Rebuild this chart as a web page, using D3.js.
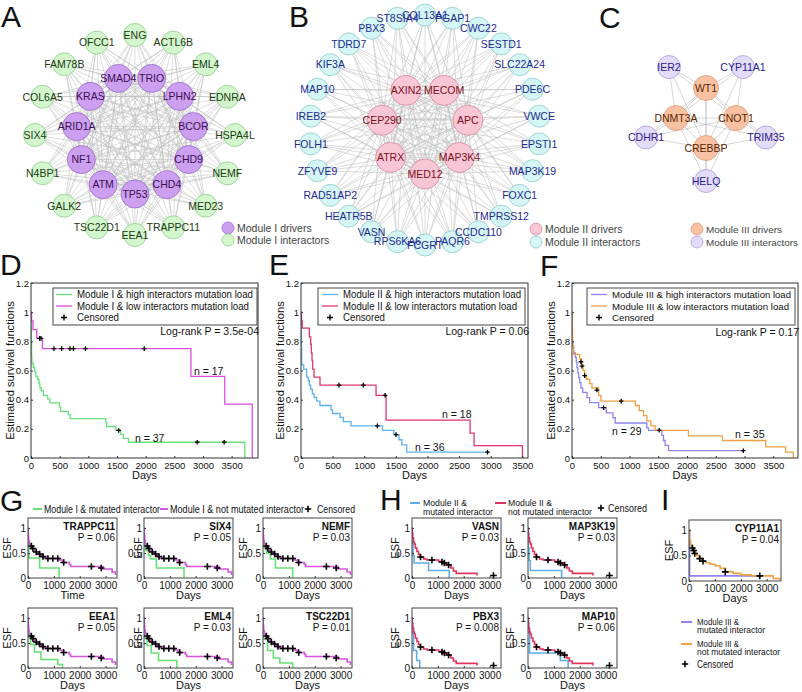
<!DOCTYPE html>
<html><head><meta charset="utf-8">
<script src="https://cdn.jsdelivr.net/npm/d3@7/dist/d3.min.js"></script>
<style>html,body{margin:0;padding:0;background:#fff;}svg{display:block;}</style>
</head><body>
<svg id="chart" width="802" height="692"></svg>
<script>
// ---------------- DATA ----------------
// Panel A
const modIDrivers=["TP53","ATM","NF1","ARID1A","KRAS","SMAD4","TRIO","LPHN2","BCOR","CHD9","CHD4"];
const modIInteractors=["ENG","ACTL6B","EML4","EDNRA","HSPA4L","NEMF","MED23","TRAPPC11","EEA1","TSC22D1","GALK2","N4BP1","SIX4","COL6A5","FAM78B","OFCC1"];
// Panel B
const modIIDrivers=["MED12","ATRX","CEP290","AXIN2","MECOM","APC","MAP3K4"];
const modIIInteractors=["COL13A1","PGAP1","CWC22","SESTD1","SLC22A24","PDE6C","VWCE","EPSTI1","MAP3K19","FOXC1","TMPRSS12","CCDC110","PAQR6","FCGRT","RPS6KA6","VASN","HEATR5B","RAD51AP2","ZFYVE9","FOLH1","IREB2","MAP10","KIF3A","TDRD7","PBX3","ST8SIA4"];
// Panel C
const modIIIDrivers=["WT1","CNOT1","CREBBP","DNMT3A"];
const modIIIInteractors=["HELQ","TRIM35","CYP11A1","IER2","CDHR1"];

// Panel D  [days, survival]
const dHigh=[[0,1],[3,0.89],[6,0.78],[10,0.70],[15,0.65],[40,0.62],[65,0.59],[85,0.56],[115,0.54],[140,0.51],[155,0.48],[180,0.46],[215,0.43],[290,0.405],[330,0.378],[495,0.35],[515,0.32],[650,0.297],[680,0.27],[1305,0.243],[1320,0.216],[1480,0.189],[1565,0.162],[1610,0.135],[1700,0.108],[3730,0]];
const dHighCens=[[1530,0.189],[2900,0.108],[3370,0.108]];
const dLow=[[0,1],[10,0.94],[35,0.88],[100,0.82],[200,0.75],[2790,0.56],[3380,0.37],[3860,0]];
const dLowCens=[[150,0.82],[175,0.82],[400,0.75],[535,0.75],[680,0.75],[740,0.75],[950,0.75],[1975,0.75]];
// Panel E
const eHigh=[[0,1],[3,0.86],[6,0.75],[10,0.64],[42,0.61],[90,0.555],[116,0.53],[132,0.5],[153,0.47],[180,0.44],[206,0.415],[248,0.39],[300,0.36],[475,0.33],[500,0.305],[617,0.278],[670,0.25],[790,0.22],[1290,0.19],[1470,0.16],[1550,0.125],[1595,0.09],[1672,0.04],[2950,0.04]];
const eHighCens=[[1208,0.22],[1503,0.16],[2950,0.04]];
const eLow=[[0,1],[8,0.94],[20,0.89],[132,0.83],[153,0.78],[163,0.72],[174,0.67],[185,0.61],[206,0.555],[300,0.5],[1187,0.43],[1345,0.26],[2674,0.17],[2737,0.085],[3502,0]];
const eLowCens=[[601,0.5],[986,0.5],[1329,0.43]];
// Panel F
const fHigh=[[0,1],[3,0.8],[17,0.76],[29,0.72],[58,0.69],[75,0.655],[87,0.62],[100,0.586],[116,0.55],[135,0.517],[156,0.48],[185,0.45],[260,0.414],[307,0.38],[463,0.345],[596,0.31],[712,0.276],[752,0.24],[1300,0.207],[1330,0.19],[1562,0.155],[1591,0.12],[1620,0.086],[1678,0.05],[2980,0.05]];
const fHighCens=[[550,0.345],[2980,0.05]];
const fLow=[[0,1],[4,0.88],[10,0.77],[29,0.71],[133,0.68],[165,0.64],[191,0.6],[220,0.565],[249,0.54],[307,0.51],[347,0.48],[463,0.43],[503,0.39],[1100,0.36],[1169,0.325],[1244,0.29],[1302,0.255],[1371,0.22],[1447,0.19],[2025,0.152],[2616,0.12],[3368,0.076],[3715,0.04],[3848,0]];
const fLowCens=[[156,0.66],[174,0.63],[220,0.565],[434,0.466],[856,0.39],[1516,0.19]];
const kmTicksX=[0,500,1000,1500,2000,2500,3000,3500];
const kmTicksY=[0,0.2,0.4,0.6,0.8,1,1.2];

// Panel G
const gGenes=["TRAPPC11","SIX4","NEMF","EEA1","EML4","TSC22D1"];
const gPvals=["P = 0.06","P = 0.05","P = 0.03","P = 0.05","P = 0.03","P = 0.01"];
const gXLabels=["Time","Days","Days","Days","Days","Days"];
const gMutated=[
 [[0,1],[5,0.62],[30,0.4],[450,0.2],[1200,0]],
 [[0,1],[5,0.63],[60,0.55],[170,0.45],[250,0.38],[480,0.2],[1545,0]],
 [[0,1],[5,0.62],[130,0.5],[280,0.38],[480,0.2],[1145,0]],
 [[0,1],[5,0.62],[100,0.47],[250,0.32],[500,0.17],[1150,0.07],[1330,0]],
 [[0,1],[5,0.6],[120,0.45],[280,0.3],[560,0.15],[1270,0]],
 [[0,1],[5,0.58],[180,0.35],[400,0.2],[650,0.1],[1150,0]]
];
const gNotMutated=[[0,1],[10,0.85],[25,0.75],[50,0.68],[100,0.64],[160,0.59],[250,0.54],[330,0.49],[450,0.45],[560,0.41],[700,0.39],[1200,0.36],[1330,0.31],[1600,0.27],[1650,0.23],[2900,0.18],[3250,0.12],[3380,0.06]];
const gCensored=[[130,0.64],[190,0.59],[320,0.52],[450,0.48],[580,0.43],[770,0.39],[960,0.39],[1150,0.39],[1380,0.31],[2450,0.23],[2830,0.2]];
// Panel H
const hGenes=["VASN","MAP3K19","PBX3","MAP10"];
const hPvals=["P = 0.03","P = 0.03","P = 0.008","P = 0.06"];
const hMutated=[
 [[0,1],[5,0.7],[40,0.45],[80,0.3],[640,0.15],[1440,0]],
 [[0,1],[5,0.6],[40,0.35],[90,0.15],[1300,0]],
 [[0,1],[5,0.7],[60,0.35],[180,0.15],[300,0]],
 [[0,1],[5,0.7],[60,0.3],[1250,0.15],[1550,0]]
];
const hNotMutated=[[0,1],[10,0.9],[30,0.8],[60,0.72],[90,0.68],[130,0.6],[190,0.53],[250,0.47],[320,0.42],[450,0.38],[580,0.36],[1030,0.33],[1200,0.3],[1350,0.26],[1500,0.2],[1600,0.14],[1710,0.093],[2510,0.05]];
const hCensored=[[330,0.42],[770,0.36],[1160,0.32],[1250,0.3],[1415,0.26],[3150,0.05]];
// Panel I
const iGene="CYP11A1", iPval="P = 0.04";
const iMutated=[[0,1],[20,0.1],[2750,0.1]];
const iNotMutated=[[0,1],[15,0.8],[60,0.7],[130,0.65],[180,0.6],[220,0.54],[300,0.5],[412,0.44],[540,0.39],[650,0.36],[800,0.33],[1000,0.3],[1200,0.25],[1400,0.18],[1700,0.15],[2000,0.12],[2400,0.1],[3250,0.05],[3500,0.02]];
const iCensored=[[130,0.65],[180,0.6],[220,0.54],[412,0.44],[540,0.39],[1400,0.18],[2730,0.1]];
const smallTicksX=[0,1000,2000,3000];
const smallTicksY=[0,0.5,1];

// ---------------- DRAWING ----------------
const FONT="'Liberation Sans', Arial, Helvetica, sans-serif";
const svg=d3.select("#chart").attr("font-family",FONT);
svg.append("rect").attr("width",802).attr("height",692).attr("fill","#fff");
let clipN=0;
const plus=a=>`M${-a},0H${a}M0,${-a}V${a}`;

function txt(g,x,y,s,o={}){
  const t=g.append("text").attr("x",x).attr("y",y).text(s)
    .attr("font-size",o.size||10).attr("fill",o.fill||"#111")
    .attr("text-anchor",o.anchor||"start").attr("font-family",FONT);
  if(o.weight) t.attr("font-weight",o.weight);
  if(o.len) t.attr("textLength",o.len).attr("lengthAdjust","spacingAndGlyphs");
  if(o.rotate) t.attr("transform",`rotate(-90,${x},${y})`);
  return t;
}

// panel letters
[["A",1,27],["B",289,27],["C",599,28],["D",0,275],["E",269,275],["F",540,276],["G",0,511],["H",380,510],["I",661,510]]
 .forEach(([l,x,y])=>txt(svg,x,y,l,{size:30}));

// networks
function network(c){
  const g=svg.append("g");
  const rad=d=>d*Math.PI/180;
  const aD=d3.scaleLinear().domain([0,c.drivers.length]).range([c.startD,c.startD+360]);
  const aI=d3.scaleLinear().domain([0,c.inter.length]).range([c.startI,c.startI+c.dirI*360]);
  const D=c.drivers.map((n,i)=>({n,x:c.cx+c.rD*Math.cos(rad(aD(i))),y:c.cy+c.rD*Math.sin(rad(aD(i)))}));
  const I=c.inter.map((n,i)=>({n,x:c.cx+c.rI*Math.cos(rad(aI(i))),y:c.cy+c.rI*Math.sin(rad(aI(i)))}));
  const edges=[];
  D.forEach((a,i)=>{D.forEach((b,j)=>{if(j>i)edges.push([a,b]);});I.forEach(b=>edges.push([a,b]));});
  g.append("g").selectAll("line").data(edges).join("line")
    .attr("x1",d=>d[0].x).attr("y1",d=>d[0].y).attr("x2",d=>d[1].x).attr("y2",d=>d[1].y)
    .attr("stroke","#bdbdbd").attr("stroke-width",c.ew).attr("stroke-opacity",0.9);
  g.append("g").selectAll("circle").data(I).join("circle")
    .attr("cx",d=>d.x).attr("cy",d=>d.y).attr("r",c.nrI).attr("fill",c.fillI).attr("stroke",c.strokeI).attr("stroke-width",0.8);
  g.append("g").selectAll("circle").data(D).join("circle")
    .attr("cx",d=>d.x).attr("cy",d=>d.y).attr("r",c.nrD).attr("fill",c.fillD).attr("stroke",c.strokeD).attr("stroke-width",0.8);
  g.append("g").selectAll("text").data(I).join("text")
    .attr("x",d=>d.x).attr("y",d=>d.y+3.8).attr("text-anchor","middle").attr("font-size",c.fs)
    .attr("fill",c.textI).text(d=>d.n);
  g.append("g").selectAll("text").data(D).join("text")
    .attr("x",d=>d.x).attr("y",d=>d.y+3.8).attr("text-anchor","middle").attr("font-size",c.fs)
    .attr("fill",c.textD).text(d=>d.n);
  // legend
  const L=c.legend;
  g.append("circle").attr("cx",L.x).attr("cy",L.y1).attr("r",6).attr("fill",c.fillD).attr("stroke",c.strokeD).attr("stroke-width",0.8);
  g.append("circle").attr("cx",L.x).attr("cy",L.y2).attr("r",6).attr("fill",c.fillI).attr("stroke",c.strokeI).attr("stroke-width",0.8);
  txt(g,L.x+9,L.y1+3.6,L.t1,{size:L.fs||10.5,fill:"#444",len:L.l1});
  txt(g,L.x+9,L.y2+3.6,L.t2,{size:L.fs||10.5,fill:"#444",len:L.l2});
}
network({drivers:modIDrivers,inter:modIInteractors,cx:135,cy:135,rD:59,rI:100,startD:90,startI:-90,dirI:1,
  nrD:14,nrI:11.5,fillD:"#cc9ff0",strokeD:"#9a6cc4",fillI:"#d3f6cf",strokeI:"#8fcf8a",textD:"#3a1050",textI:"#1d3a12",fs:10.5,ew:0.6,
  legend:{x:228,y1:228,y2:240,t1:"Module I drivers",t2:"Module I interactors"}});
network({drivers:modIIDrivers,inter:modIIInteractors,cx:425,cy:130,rD:44,rI:115,startD:90,startI:-90,dirI:1,
  nrD:15,nrI:11,fillD:"#f9c6d6",strokeD:"#d08aa0",fillI:"#d6f6f6",strokeI:"#8ccacc",textD:"#7a1020",textI:"#1f2a8f",fs:10.5,ew:0.6,
  legend:{x:536,y1:229,y2:242,t1:"Module II drivers",t2:"Module II interactors"}});
network({drivers:modIIIDrivers,inter:modIIIInteractors,cx:706,cy:118,rD:30,rI:63,startD:-90,startI:90,dirI:-1,
  nrD:12.5,nrI:11.5,fillD:"#f8c1a2",strokeD:"#dd9a78",fillI:"#e3dcf8",strokeI:"#aa9bd8",textD:"#5a2500",textI:"#2a2090",fs:10.5,ew:0.7,
  legend:{x:697,y1:229,y2:242,t1:"Module III drivers",t2:"Module III interactors",fs:9.8,l1:76,l2:92}});

// Large KM panels
function kmBig(o){
  const g=svg.append("g");
  const x=d3.scaleLinear().domain([0,o.xMax]).range([o.left,o.left+o.width]);
  const y=d3.scaleLinear().domain([0,1.2]).range([o.top+o.height,o.top]);
  const id="clip"+(clipN++);
  g.append("clipPath").attr("id",id).append("rect").attr("x",o.left).attr("y",o.top).attr("width",o.width).attr("height",o.height+1);
  const line=d3.line().x(d=>x(d[0])).y(d=>y(d[1])).curve(d3.curveStepAfter);
  o.curves.forEach(c=>g.append("path").attr("d",line(c.data)).attr("fill","none").attr("stroke",c.color).attr("stroke-width",1.3).attr("clip-path",`url(#${id})`));
  o.curves.forEach(c=>g.append("g").selectAll("path").data(c.cens).join("path").attr("d",plus(2.3))
    .attr("transform",d=>`translate(${x(d[0])},${y(d[1])})`).attr("stroke","#000").attr("stroke-width",1.3));
  const xa=d3.axisBottom(x).tickValues(kmTicksX).tickSize(-2).tickPadding(4).tickFormat(d3.format("d"));
  const gx=g.append("g").attr("transform",`translate(0,${o.top+o.height})`).call(xa);
  gx.select(".domain").remove();
  gx.selectAll("line").attr("stroke","#333");
  gx.selectAll("text").attr("font-size",9.5).attr("fill","#111").attr("font-family",FONT);
  const ya=d3.axisLeft(y).tickValues(kmTicksY).tickSize(-2).tickPadding(2).tickFormat(d=>d===0?"0":d===1?"1":d3.format(".1f")(d));
  const gy=g.append("g").attr("transform",`translate(${o.left},0)`).call(ya);
  gy.select(".domain").remove();
  gy.selectAll("line").attr("stroke","#333");
  gy.selectAll("text").attr("font-size",9.5).attr("fill","#111").attr("font-family",FONT);
  g.append("rect").attr("x",o.left).attr("y",o.top).attr("width",o.width).attr("height",o.height).attr("fill","none").attr("stroke","#333").attr("stroke-width",1);
  txt(g,o.left+o.width/2,o.top+o.height+21,"Days",{size:11,anchor:"middle"});
  txt(g,o.ylx,o.top+o.height/2,"Estimated survival functions",{size:11.2,anchor:"middle",rotate:true});
  // legend box
  const B=o.box;
  g.append("rect").attr("x",B.x).attr("y",B.y).attr("width",B.w).attr("height",B.h).attr("fill","#fff").attr("stroke","#333").attr("stroke-width",0.9);
  const rows=[B.y+6.5,B.y+18,B.y+29.5];
  o.curves.forEach((c,i)=>{
    g.append("line").attr("x1",B.lx1).attr("x2",B.lx2).attr("y1",rows[i]).attr("y2",rows[i]).attr("stroke",c.color).attr("stroke-width",1.3);
    txt(g,B.tx,rows[i]+3.7,c.label,{size:B.fs,len:c.len});
  });
  g.append("path").attr("d",plus(3)).attr("transform",`translate(${(B.lx1+B.lx2)/2},${rows[2]})`).attr("stroke","#000").attr("stroke-width",1.4);
  txt(g,B.tx,rows[2]+3.7,"Censored",{size:B.fs,len:42});
  txt(g,o.left+o.width+1,o.pY,o.pText,{size:10.5,anchor:"end"});
  o.nLabels.forEach(n=>txt(g,x(n.d),y(n.s),n.t,{size:10.5}));
}
kmBig({left:31,top:283,width:227,height:175,xMax:3960,ylx:14,pY:335,pText:"Log-rank P = 3.5e-04",
  curves:[{data:dHigh,cens:dHighCens,color:"#66e07a",label:"Module I & high interactors mutation load",len:176},
          {data:dLow,cens:dLowCens,color:"#d94fdd",label:"Module I & low interactors mutation load",len:172}],
  box:{x:53,y:288,w:204,h:37,lx1:56,lx2:72,tx:77,fs:10},
  nLabels:[{d:2843,s:0.57,t:"n = 17"},{d:1814,s:0.11,t:"n = 37"}]});
kmBig({left:301,top:283,width:227,height:175,xMax:3590,ylx:284,pY:335,pText:"Log-rank P = 0.06",
  curves:[{data:eHigh,cens:eHighCens,color:"#5cb3ec",label:"Module II & high interactors mutation load",len:178},
          {data:eLow,cens:eLowCens,color:"#e0356a",label:"Module II & low interactors mutation load",len:174}],
  box:{x:318,y:288,w:207,h:37,lx1:322,lx2:338,tx:343,fs:10},
  nLabels:[{d:2230,s:0.274,t:"n = 18"},{d:1803,s:0.048,t:"n = 36"}]});
kmBig({left:572,top:283,width:226,height:175,xMax:3930,ylx:555,pY:336,pText:"Log-rank P = 0.17",
  curves:[{data:fHigh,cens:fHighCens,color:"#8f84ee",label:"Module III & high interactors mutation load",len:179},
          {data:fLow,cens:fLowCens,color:"#f0a045",label:"Module III & low interactors mutation load",len:177}],
  box:{x:587,y:288,w:208,h:37,lx1:591,lx2:607,tx:612,fs:9.3},
  nLabels:[{d:696,s:0.158,t:"n = 29"},{d:2835,s:0.137,t:"n = 35"}]});

// Small KM panels
function kmSmall(o){
  const g=svg.append("g");
  const x=d3.scaleLinear().domain([0,o.xMax]).range([o.left,o.left+o.width]);
  const y=d3.scaleLinear().domain([0,1.2]).range([o.top+o.height,o.top]);
  const id="clip"+(clipN++);
  g.append("clipPath").attr("id",id).append("rect").attr("x",o.left).attr("y",o.top).attr("width",o.width).attr("height",o.height+1);
  const line=d3.line().x(d=>x(d[0])).y(d=>y(d[1])).curve(d3.curveStepAfter);
  g.append("path").attr("d",line(o.mut)).attr("fill","none").attr("stroke",o.cMut).attr("stroke-width",1.6).attr("clip-path",`url(#${id})`);
  g.append("path").attr("d",line(o.not)).attr("fill","none").attr("stroke",o.cNot).attr("stroke-width",1.6).attr("clip-path",`url(#${id})`);
  g.append("g").selectAll("path").data(o.cens).join("path").attr("d",plus(3.3))
    .attr("transform",d=>`translate(${x(d[0])},${y(d[1])})`).attr("stroke","#000").attr("stroke-width",1.6);
  const xa=d3.axisBottom(x).tickValues(smallTicksX).tickSize(-2).tickPadding(4).tickFormat(d3.format("d"));
  const gx=g.append("g").attr("transform",`translate(0,${o.top+o.height})`).call(xa);
  gx.select(".domain").remove();
  gx.selectAll("line").attr("stroke","#333");
  gx.selectAll("text").attr("font-size",10).attr("fill","#111").attr("font-family",FONT);
  const ya=d3.axisLeft(y).tickValues(smallTicksY).tickSize(-2).tickPadding(2).tickFormat(d=>d===0.5?"0.5":d3.format("d")(d));
  const gy=g.append("g").attr("transform",`translate(${o.left},0)`).call(ya);
  gy.select(".domain").remove();
  gy.selectAll("line").attr("stroke","#333");
  gy.selectAll("text").attr("font-size",10).attr("fill","#111").attr("font-family",FONT);
  g.append("rect").attr("x",o.left).attr("y",o.top).attr("width",o.width).attr("height",o.height).attr("fill","none").attr("stroke","#444").attr("stroke-width",1);
  txt(g,o.left+o.width-2,o.top+11.5,o.gene,{size:10,weight:"bold",anchor:"end"});
  txt(g,o.left+o.width-2,o.top+22.5,o.p,{size:10,anchor:"end"});
  txt(g,o.left+o.width/2,o.top+o.height+21,o.xl,{size:11,anchor:"middle"});
  txt(g,o.left+o.esf+4,o.top+o.height/2,"ESF",{size:11,anchor:"middle",rotate:true});
}
const gCols=[28,144,263], gEsf=[-21,-6,-20], rowsTop=[518,608];
gGenes.forEach((gene,i)=>{
  const c=i%3, r=Math.floor(i/3);
  kmSmall({left:gCols[c],top:rowsTop[r],width:89,height:60,xMax:3440,esf:gEsf[c],
    mut:gMutated[i],not:gNotMutated,cens:gCensored,cMut:"#66e070",cNot:"#d955e0",gene,p:gPvals[i],xl:gXLabels[i]});
});
const hCols=[412,528], hEsf=[-17,-18];
hGenes.forEach((gene,i)=>{
  const c=i%2, r=Math.floor(i/2);
  kmSmall({left:hCols[c],top:rowsTop[r],width:89,height:60,xMax:3440,esf:hEsf[c],
    mut:hMutated[i],not:hNotMutated,cens:hCensored,cMut:"#5aaeea",cNot:"#e0355f",gene,p:hPvals[i],xl:"Days"});
});
kmSmall({left:689,top:520,width:92,height:61,xMax:3550,esf:-20,mut:iMutated,not:iNotMutated,cens:iCensored,
  cMut:"#8f84ee",cNot:"#f0a045",gene:iGene,p:iPval,xl:"Days"});

// bottom legends
const lg=svg.append("g");
function legLine(x1,x2,y,color){lg.append("line").attr("x1",x1).attr("x2",x2).attr("y1",y).attr("y2",y).attr("stroke",color).attr("stroke-width",2);}
function legPlus(x,y){lg.append("path").attr("d",plus(3.2)).attr("transform",`translate(${x},${y})`).attr("stroke","#000").attr("stroke-width",1.6);}
// G
legLine(33,42,509,"#66e070"); txt(lg,44,512.5,"Module I & mutated interactor",{size:10,len:116});
legLine(160,168,509,"#d955e0"); txt(lg,170,512.5,"Module I & not mutated interactor",{size:10,len:134});
legPlus(308,509); txt(lg,317,512.5,"Censored",{size:10,len:38});
// H
legLine(410,420,503,"#5aaeea"); txt(lg,423,506.3,"Module II &",{size:9.5,len:44}); txt(lg,423,515,"mutated interactor",{size:9.5,len:70});
legLine(495,506,503,"#e0355f"); txt(lg,508,506.3,"Module II &",{size:9.5,len:44}); txt(lg,508,515,"not mutated interactor",{size:9.5,len:84});
legPlus(601,508); txt(lg,608,511.5,"Censored",{size:10,len:39});
// I
legLine(681,692,622,"#8f84ee"); txt(lg,697,624.5,"Module III &",{size:9.5,len:42}); txt(lg,697,633,"mutated interactor",{size:9.5,len:68});
legLine(681,692,644,"#f0a045"); txt(lg,697,646.5,"Module III &",{size:9.5,len:42}); txt(lg,697,655,"not mutated interactor",{size:9.5,len:83});
legPlus(685,664); txt(lg,697,667.5,"Censored",{size:10,len:36});
</script>
</body></html>
